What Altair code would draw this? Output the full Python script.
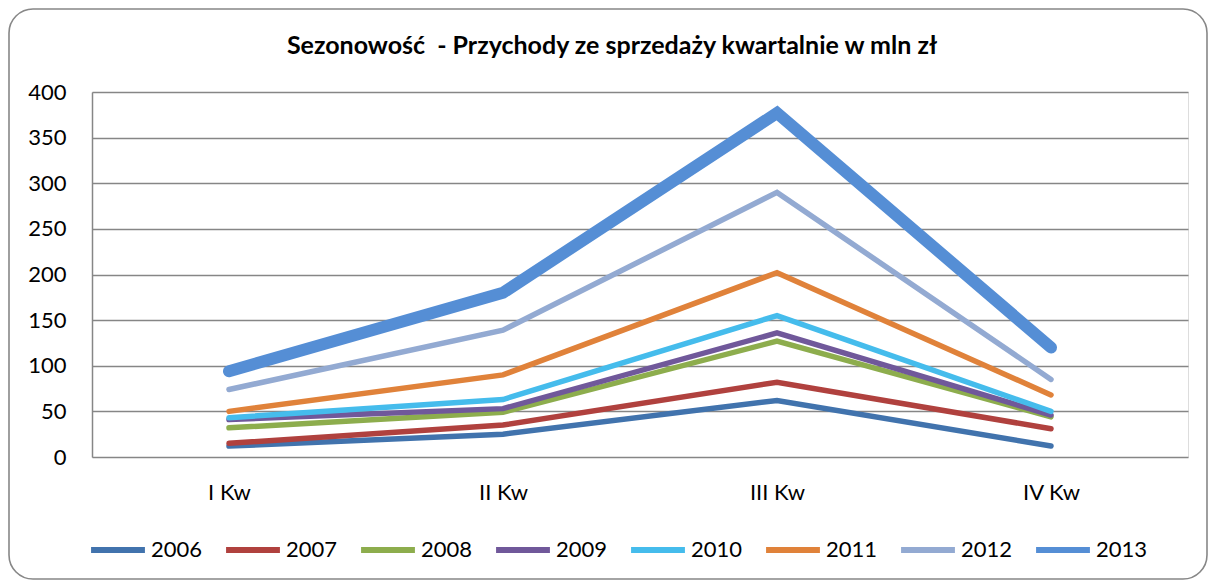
import altair as alt
import pandas as pd

quarters = ["I Kw", "II Kw", "III Kw", "IV Kw"]
years = ["2006", "2007", "2008", "2009", "2010", "2011", "2012", "2013"]
values = {
    "2006": [12, 25, 62, 12],
    "2007": [15, 35, 82, 31],
    "2008": [32, 49, 127, 44],
    "2009": [41, 53, 136, 46],
    "2010": [43, 63, 155, 50],
    "2011": [50, 90, 202, 68],
    "2012": [74, 139, 290, 85],
    "2013": [94, 180, 377, 120],
}
colors = ["#4173AD", "#B0413E", "#8DAD4D", "#70589A", "#45BCEC", "#E0823A", "#93AAD2", "#558ED5"]
title_text = "Sezonowość\u00a0 - Przychody ze sprzedaży kwartalnie w mln zł"

rows = []
for y in years:
    for q, v in zip(quarters, values[y]):
        rows.append({"kwartal": q, "rok": y, "wartosc": v})
df = pd.DataFrame(rows)

W, H = 1096, 365
PL, PT, PR, PB = 84, 84, 20, 123
FONT = "Lato"

x_enc = alt.X("kwartal:N", sort=quarters, title=None,
              scale=alt.Scale(type="point", padding=0.5),
              axis=alt.Axis(labelAngle=0, ticks=False, domain=False, grid=False,
                            labelFontSize=22, labelFont=FONT, labelColor="#000000",
                            labelPadding=25))
y_enc = alt.Y("wartosc:Q", title=None,
              scale=alt.Scale(domain=[0, 400], nice=False),
              axis=alt.Axis(values=list(range(0, 401, 50)), ticks=False,
                            domain=True, domainColor="#868686", domainWidth=1.5,
                            grid=True, gridColor="#868686", gridWidth=1.3,
                            labelFontSize=22, labelFont=FONT, labelColor="#000000",
                            labelPadding=26))
c_enc = alt.Color("rok:O", sort=years,
                  scale=alt.Scale(type="ordinal", domain=years, range=colors),
                  legend=alt.Legend(
                      title=None, orient="none", direction="horizontal",
                      columns=8, legendX=-4, legendY=428,
                      symbolType="stroke", symbolSize=2900,
                      symbolStrokeWidth=6,
                      labelFontSize=22, labelFont=FONT,
                      labelColor="#000000", labelOffset=3, columnPadding=11,
                  ))

base = alt.Chart(df).encode(x=x_enc, y=y_enc, color=c_enc, order=alt.Order("rok:O"))

thin = base.transform_filter(alt.datum.rok != "2013").mark_line(
    strokeCap="round", strokeJoin="miter", strokeWidth=5.5)
thick = base.transform_filter(alt.datum.rok == "2013").mark_line(
    strokeCap="round", strokeJoin="miter", strokeWidth=12)

frame = alt.Chart(pd.DataFrame({"a": [0]})).mark_rect(
    fillOpacity=0, stroke="#878787", strokeWidth=1.6, cornerRadius=24
).encode(
    x=alt.value(-PL + 1), x2=alt.value(W + PR - 1),
    y=alt.value(-PT + 1), y2=alt.value(H + PB - 1),
)

title = alt.Chart(pd.DataFrame({"t": [title_text]})).mark_text(
    font=FONT, fontSize=25, fontWeight="bold", color="#000000",
    align="center", baseline="alphabetic"
).encode(
    text="t:N", x=alt.value(520), y=alt.value(-38),
)

chart = alt.layer(frame, title, thin, thick).properties(
    width=W, height=H,
    autosize=alt.AutoSizeParams(type="none"),
    padding={"left": PL, "top": PT, "right": PR, "bottom": PB},
).configure_view(stroke=None).configure(background="#ffffff")

chart.save("out.html", embed_options={"renderer": "svg", "actions": False})
